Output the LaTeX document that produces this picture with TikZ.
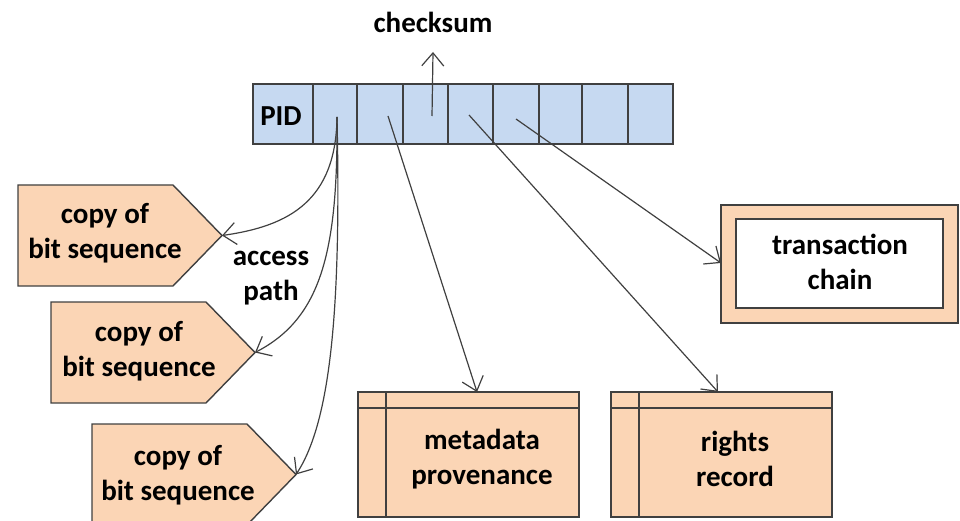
\documentclass[tikz,border=0pt]{standalone}
\usepackage{fontspec}
\setmainfont{Carlito}
\usetikzlibrary{arrows.meta}
\definecolor{peach}{HTML}{FBD5B5}
\definecolor{cellblue}{HTML}{C6D9F1}
\definecolor{edge}{HTML}{404040}
\begin{document}
\begin{tikzpicture}[x=1pt,y=-1pt,
  lbl/.style={font=\fontsize{29}{35}\selectfont\bfseries, align=center, inner sep=0pt, text=black},
  shapeline/.style={draw=edge, line width=1.4pt},
  conn/.style={draw=edge, line width=1.2pt, -{Straight Barb[length=13pt,width=22pt,line width=1.2pt]}}
]
\useasboundingbox (0,0) rectangle (960,521);
\clip (0,0) rectangle (960,521);
% PID bar
\foreach \a/\b [count=\i] in {253/313,313/357,357/403,403/448,448/493,493/539,539/582,582/628,628/673}{
  \path[shapeline, fill=cellblue] (\a,84) rectangle (\b,144);
  \coordinate (c\i) at ({(\a+\b)/2},114);
}
\node[lbl] (pid) at (281,116) {PID};
\node[lbl] (checksum) at (433,22) {checksum};
\coordinate (cs) at (432,116);
\coordinate (csend) at (433,52);
\coordinate (s2) at (337,117);
\coordinate (s3) at (388,116);
\coordinate (s5) at (469,115);
\coordinate (s6) at (516,119);
% copy boxes
\foreach \l/\t/\k in {18/185/1,51/302/2,92/424/3}{
  \path[shapeline, fill=peach] (\l,\t) -- ++(155,0) -- ++(49,50.5) -- ++(-49,50.5) -- ++(-155,0) -- cycle;
  \coordinate (tip\k) at ({\l+204},{\t+50.5});
}
\node[lbl] (copy1) at (105,233) {copy of\\bit sequence};
\node[lbl] (copy2) at (139,351) {copy of\\bit sequence};
\node[lbl] (copy3) at (178,475) {copy of\\bit sequence};
\node[lbl] (access) at (271,278) {access\\path};
% metadata and rights
\path[shapeline, fill=peach] (358,392) rectangle (579,517);
\draw[shapeline] (358,408) -- (579,408) (386,392) -- (386,517);
\node[lbl] (meta) at (482,459) {metadata\\provenance};
\coordinate (metatop) at (477,392);
\path[shapeline, fill=peach] (611,392) rectangle (832,517);
\draw[shapeline] (611,408) -- (832,408) (639,392) -- (639,517);
\node[lbl] (rights) at (735,459) {rights\\record};
\coordinate (rightstop) at (718,392);
% transaction chain
\path[shapeline, fill=peach] (721,205) rectangle (958,323);
\path[shapeline, fill=white] (736,219) rectangle (943,308);
\node[lbl] (trans) at (840,262) {transaction\\chain};
\coordinate (transleft) at (721,263);
% connectors
\draw[conn] (cs) -- (csend);
\draw[conn] (s2) .. controls (336,200) and (290,226) .. (tip1);
\draw[conn] (s2) .. controls (338,250) and (322,318) .. (tip2);
\draw[conn] (s2) .. controls (341,300) and (332,420) .. (tip3);
\draw[conn] (s3) -- (metatop);
\draw[conn] (s5) -- (rightstop);
\draw[conn] (s6) -- (transleft);
\end{tikzpicture}
\end{document}
